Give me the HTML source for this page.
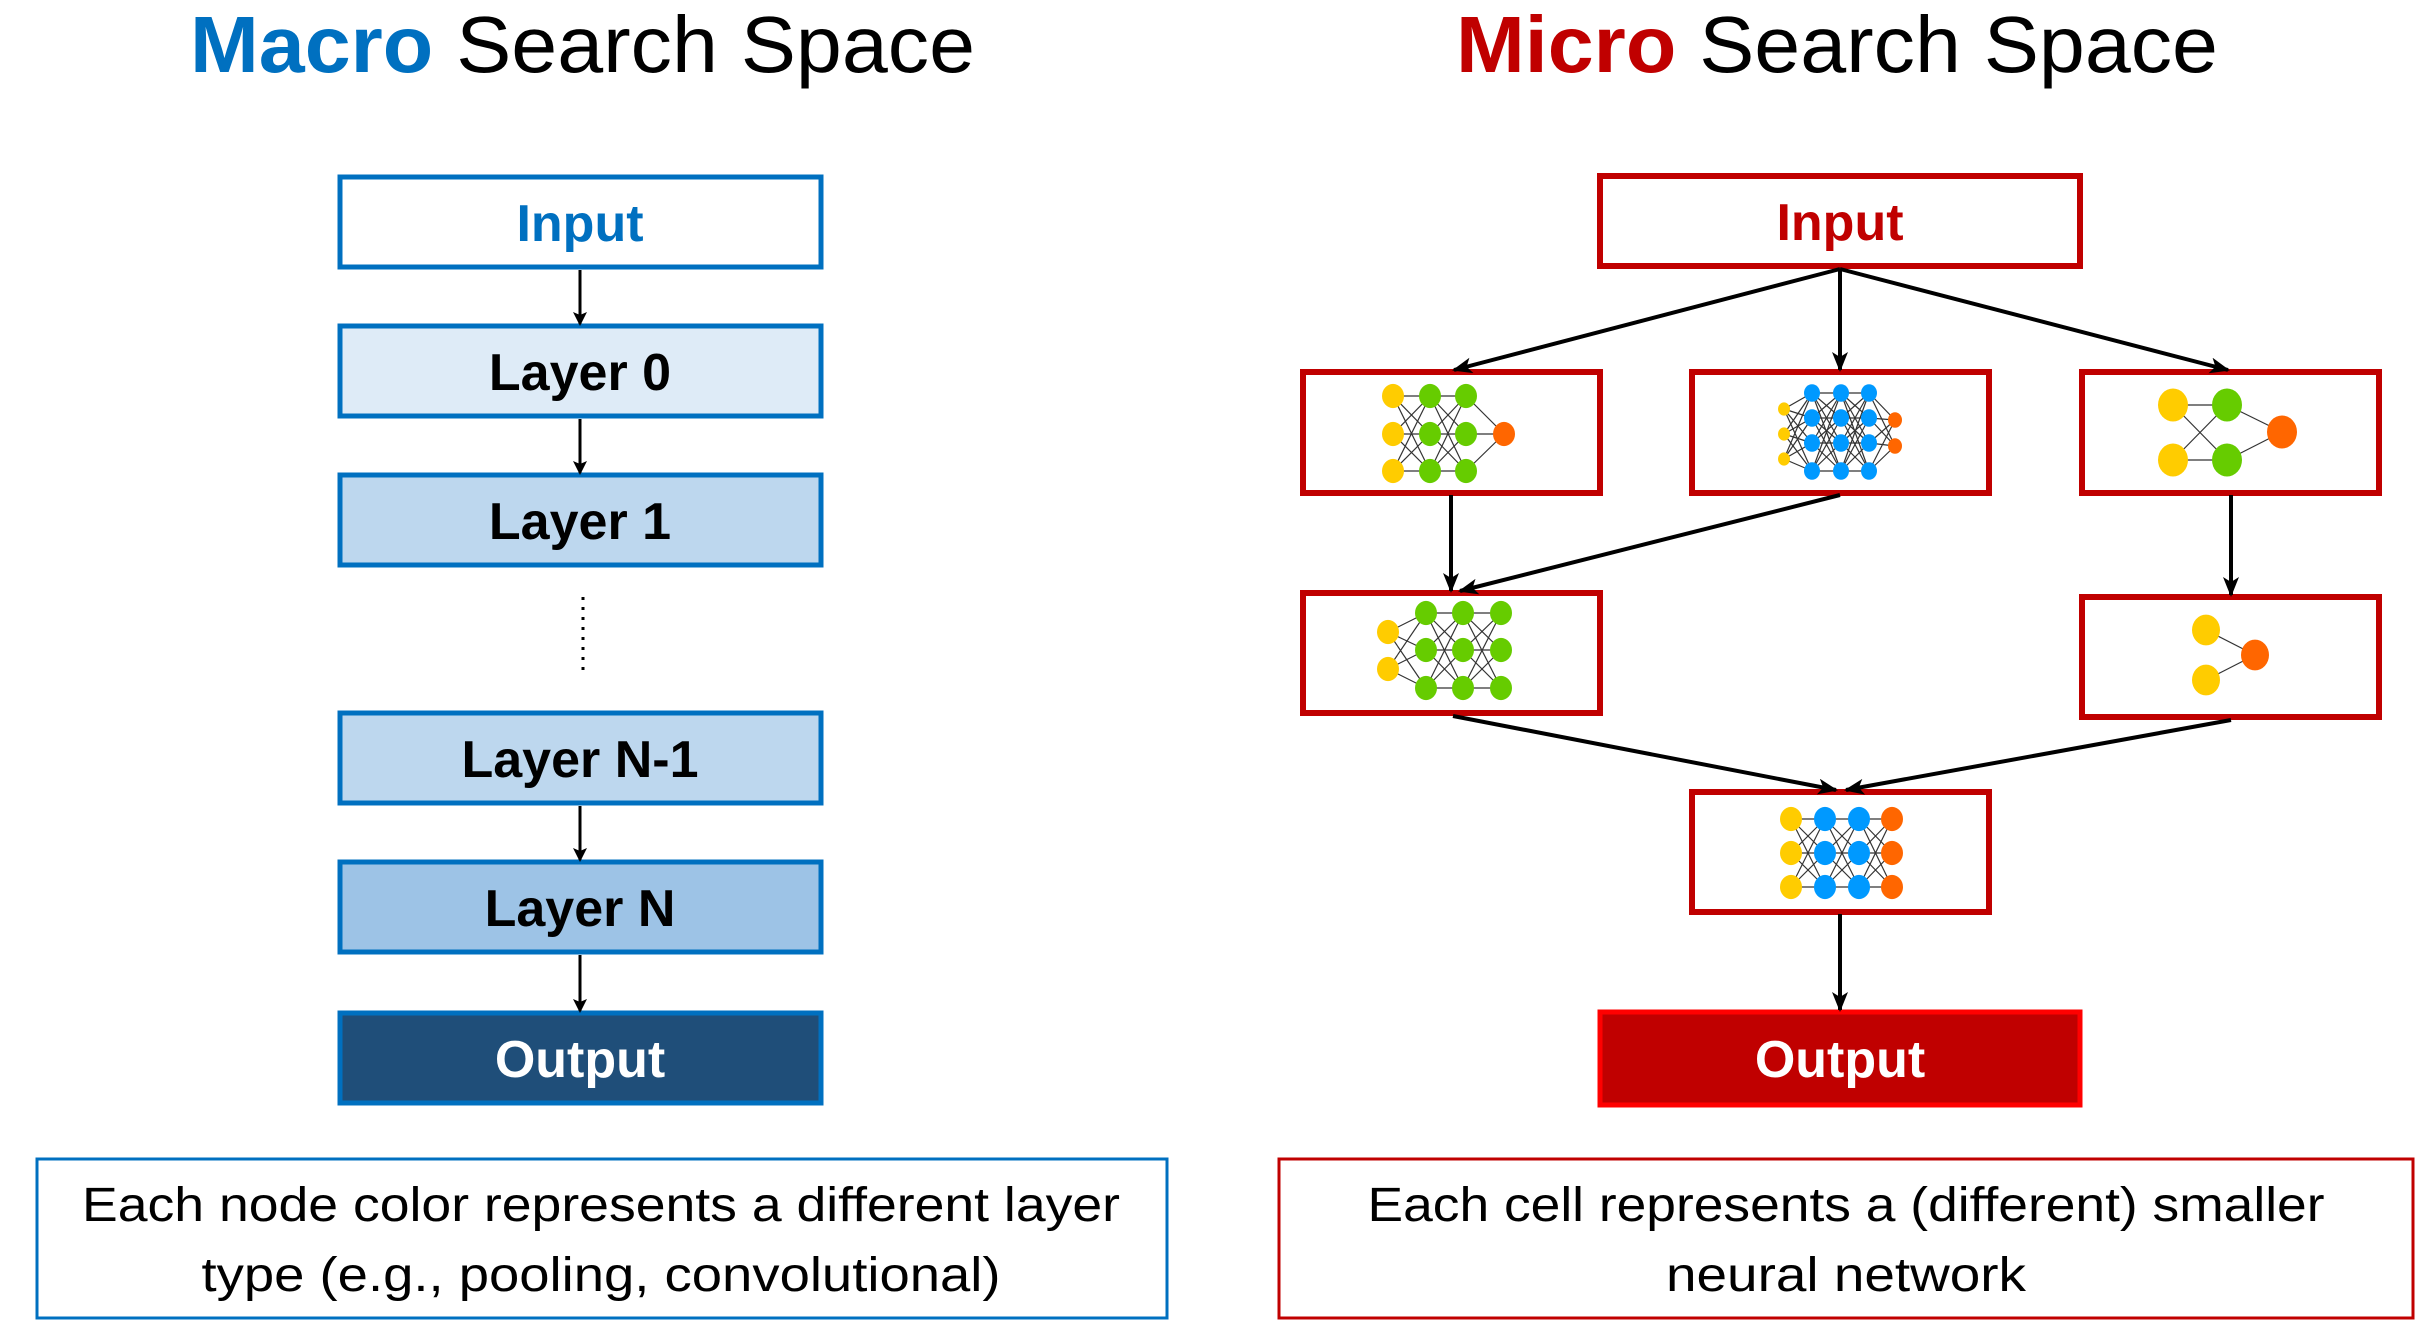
<!DOCTYPE html>
<html><head><meta charset="utf-8"><style>
html,body{margin:0;padding:0;background:#fff}
svg{display:block}
text{font-family:"Liberation Sans",sans-serif}
</style></head><body>
<svg id="s" width="2433" height="1327" viewBox="0 0 2433 1327" xmlns="http://www.w3.org/2000/svg">
<defs>
<marker id="ah" markerWidth="14" markerHeight="14" refX="12" refY="7" orient="auto" markerUnits="userSpaceOnUse">
<path d="M0,0 L14,7 L0,14 L3,7 z" fill="#000"/></marker>
<marker id="ah2" markerWidth="20" markerHeight="16" refX="18" refY="8" orient="auto" markerUnits="userSpaceOnUse">
<path d="M0,0 L20,8 L0,16 L5,8 z" fill="#000"/></marker>
</defs>

<text x="190" y="72" font-size="80" textLength="785" lengthAdjust="spacingAndGlyphs"><tspan fill="#0070C0" font-weight="bold">Macro</tspan><tspan fill="#000"> Search Space</tspan></text>
<text x="1456" y="72" font-size="80" textLength="762" lengthAdjust="spacingAndGlyphs"><tspan fill="#C00000" font-weight="bold">Micro</tspan><tspan fill="#000"> Search Space</tspan></text>

<g transform="translate(-3,-1)">
<g stroke="#0070C0" stroke-width="5">
<rect x="343" y="178" width="481" height="90" fill="#fff"/>
<rect x="343" y="327" width="481" height="90" fill="#DEEBF7"/>
<rect x="343" y="476" width="481" height="90" fill="#BDD7EE"/>
<rect x="343" y="714" width="481" height="90" fill="#BDD7EE"/>
<rect x="343" y="863" width="481" height="90" fill="#9DC3E6"/>
<rect x="343" y="1014" width="481" height="90" fill="#1F4E79"/>
</g>
<g font-size="52" font-weight="bold" text-anchor="middle">
<text x="583" y="242" fill="#0070C0">Input</text>
<text x="583" y="391" fill="#000">Layer 0</text>
<text x="583" y="540" fill="#000">Layer 1</text>
<text x="583" y="778" fill="#000">Layer N-1</text>
<text x="583" y="927" fill="#000">Layer N</text>
<text x="583" y="1078" fill="#fff">Output</text>
</g>
<g stroke="#000" stroke-width="3" marker-end="url(#ah)">
<line x1="583" y1="271" x2="583" y2="325"/>
<line x1="583" y1="420" x2="583" y2="474"/>
<line x1="583" y1="807" x2="583" y2="861"/>
<line x1="583" y1="956" x2="583" y2="1012"/>
</g>
<line x1="586" y1="598" x2="586" y2="674" stroke="#000" stroke-width="3" stroke-dasharray="3,7"/>
</g>

<g transform="translate(0,-5)">
<rect x="37" y="1164" width="1130" height="159" fill="none" stroke="#0070C0" stroke-width="3"/>
<text x="601" y="1226" font-size="48" text-anchor="middle" textLength="1038" lengthAdjust="spacingAndGlyphs">Each node color represents a different layer</text>
<text x="601" y="1296" font-size="48" text-anchor="middle" textLength="799" lengthAdjust="spacingAndGlyphs">type (e.g., pooling, convolutional)</text>
<rect x="1279" y="1164" width="1134" height="159" fill="none" stroke="#C00000" stroke-width="3"/>
<text x="1846" y="1226" font-size="48" text-anchor="middle" textLength="957" lengthAdjust="spacingAndGlyphs">Each cell represents a (different) smaller</text>
<text x="1846" y="1296" font-size="48" text-anchor="middle" textLength="360" lengthAdjust="spacingAndGlyphs">neural network</text>
</g>

<g transform="translate(-6,0)">
<g stroke="#C00000" stroke-width="6" fill="#fff">
<rect x="1606" y="176" width="480" height="90"/>
<rect x="1309" y="372" width="297" height="121"/>
<rect x="1698" y="372" width="297" height="121"/>
<rect x="2088" y="372" width="297" height="121"/>
<rect x="1309" y="593" width="297" height="120"/>
<rect x="2088" y="597" width="297" height="120"/>
<rect x="1698" y="792" width="297" height="120"/>
</g>
<rect x="1606" y="1012" width="480" height="93" fill="#C00000" stroke="#FF0000" stroke-width="5"/>
<g font-size="52" font-weight="bold" text-anchor="middle">
<text x="1846" y="240" fill="#C00000">Input</text>
<text x="1846" y="1077" fill="#fff">Output</text>
</g>
<g stroke="#000" stroke-width="4" marker-end="url(#ah2)">
<line x1="1846" y1="269" x2="1460" y2="370"/>
<line x1="1846" y1="269" x2="1846" y2="370"/>
<line x1="1846" y1="269" x2="2234" y2="370"/>
<line x1="1457" y1="495" x2="1457" y2="591"/>
<line x1="1846" y1="495" x2="1466" y2="591"/>
<line x1="2237" y1="495" x2="2237" y2="595"/>
<line x1="1459" y1="716" x2="1842" y2="790"/>
<line x1="2237" y1="720" x2="1852" y2="790"/>
<line x1="1846" y1="914" x2="1846" y2="1010"/>
</g>
<g id="nets"></g>
</g>
</svg>
<script>
var g=document.getElementById('nets'),NS='http://www.w3.org/2000/svg';
var Y='#FFCC00',G='#66CC00',B='#0099FF',O='#FF6600';
function net(layers,r){
 for(var i=0;i<layers.length-1;i++){var a=layers[i],b=layers[i+1];
  a.ys.forEach(function(y1){b.ys.forEach(function(y2){
   var l=document.createElementNS(NS,'line');l.setAttribute('x1',a.x);l.setAttribute('y1',y1);l.setAttribute('x2',b.x);l.setAttribute('y2',y2);
   l.setAttribute('stroke','#333');l.setAttribute('stroke-width','1.2');g.appendChild(l);});});}
 layers.forEach(function(L){L.ys.forEach(function(y){var e=document.createElementNS(NS,'ellipse');
  e.setAttribute('cx',L.x);e.setAttribute('cy',y);e.setAttribute('rx',L.r||r);e.setAttribute('ry',(L.r||r)*1.1);e.setAttribute('fill',L.c);g.appendChild(e);});});
}
net([{x:1399,ys:[396,434,471],c:Y},{x:1436,ys:[396,434,471],c:G},{x:1472,ys:[396,434,471],c:G},{x:1510,ys:[434],c:O}],11);
net([{x:1790,ys:[409,434,459],c:Y,r:6},{x:1818,ys:[393,418,443,471],c:B},{x:1847,ys:[393,418,443,471],c:B},{x:1875,ys:[393,418,443,471],c:B},{x:1901,ys:[420,446],c:O,r:7}],8);
net([{x:2179,ys:[405,460],c:Y},{x:2233,ys:[405,460],c:G},{x:2288,ys:[432],c:O}],15);
net([{x:1394,ys:[632,669],c:Y},{x:1432,ys:[613,650,688],c:G},{x:1469,ys:[613,650,688],c:G},{x:1507,ys:[613,650,688],c:G}],11);
net([{x:2212,ys:[630,680],c:Y},{x:2261,ys:[655],c:O}],14);
net([{x:1797,ys:[819,853,887],c:Y},{x:1831,ys:[819,853,887],c:B},{x:1865,ys:[819,853,887],c:B},{x:1898,ys:[819,853,887],c:O}],11);
</script>
</body></html>
